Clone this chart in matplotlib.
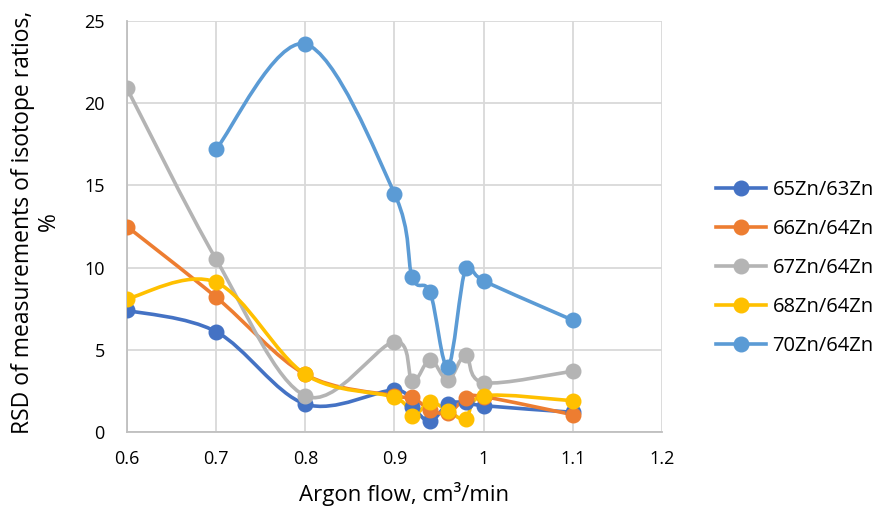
import numpy as np
import matplotlib
matplotlib.use("Agg")
import matplotlib.pyplot as plt
from matplotlib.path import Path
from matplotlib.patches import PathPatch
from matplotlib.lines import Line2D

x_flow = [0.6, 0.7, 0.8, 0.9, 0.92, 0.94, 0.96, 0.98, 1.0, 1.1]
labels = ["65Zn/63Zn", "66Zn/64Zn", "67Zn/64Zn", "68Zn/64Zn", "70Zn/64Zn"]
zn65_63 = [7.4, 6.1, 1.7, 2.55, 1.5, 0.65, 1.7, 1.8, 1.6, 1.2]
zn66_64 = [12.5, 8.2, 3.5, 2.2, 2.1, 1.35, 1.15, 2.05, 2.15, 1.05]
zn67_64 = [20.9, 10.5, 2.2, 5.5, 3.1, 4.4, 3.15, 4.7, 3.0, 3.7]
zn68_64 = [8.1, 9.1, 3.5, 2.1, 1.0, 1.8, 1.3, 0.8, 2.2, 1.9]
zn70_64 = [None, 17.2, 23.6, 14.5, 9.4, 8.5, 3.95, 10.0, 9.2, 6.8]
colors = ["#4472C4", "#ED7D31", "#B4B4B4", "#FFC000", "#5B9BD5"]
series = [zn65_63, zn66_64, zn67_64, zn68_64, zn70_64]

plt.rcParams['font.family'] = ['Open Sans', 'DejaVu Sans']

fig = plt.figure(figsize=(8.77, 5.09), dpi=100)
ax = fig.add_axes([0.1448, 0.1513, 0.6100, 0.8074])


def smooth_path(xs, ys):
    pts = np.array([(a, b) for a, b in zip(xs, ys) if b is not None], dtype=float)
    n = len(pts)
    verts = [tuple(pts[0])]
    codes = [Path.MOVETO]
    for i in range(n - 1):
        p0 = pts[i - 1] if i > 0 else pts[i]
        p1 = pts[i]
        p2 = pts[i + 1]
        p3 = pts[i + 2] if i + 2 < n else pts[i + 1]
        c1 = p1 + (p2 - p0) / 6.0
        c2 = p2 - (p3 - p1) / 6.0
        verts += [tuple(c1), tuple(c2), tuple(p2)]
        codes += [Path.CURVE4] * 3
    return Path(verts, codes), pts


handles = []
for ys, col, lab in zip(series, colors, labels):
    path, pts = smooth_path(x_flow, ys)
    ax.add_patch(PathPatch(path, facecolor='none', edgecolor=col, lw=2.6,
                           capstyle='round', joinstyle='round', zorder=3))
    ax.plot(pts[:, 0], pts[:, 1], linestyle='none', marker='o', ms=10.5,
            color=col, zorder=4)
    handles.append(Line2D([0], [0], color=col, lw=2.6, marker='o', ms=10.5))

ax.set_xlim(0.6, 1.2)
ax.set_ylim(0, 25)
ax.set_xticks([0.6, 0.7, 0.8, 0.9, 1.0, 1.1, 1.2])
ax.set_xticklabels(["0.6", "0.7", "0.8", "0.9", "1", "1.1", "1.2"])
ax.set_yticks([0, 5, 10, 15, 20, 25])
ax.grid(True, color='#D9D9D9', lw=1.3)
ax.set_axisbelow(True)
for s in ['top', 'right']:
    ax.spines[s].set_visible(False)
for s in ['left', 'bottom']:
    ax.spines[s].set_color('#BFBFBF')
    ax.spines[s].set_linewidth(1.3)
ax.tick_params(length=0, labelsize=13, colors='black')
ax.tick_params(axis='x', pad=13)
ax.tick_params(axis='y', pad=16)

fig.text(404 / 877, 1 - 494 / 509, "Argon flow, cm³/min", fontsize=16,
         ha='center', va='center')
fig.text(36 / 877, 1 - 222 / 509, "RSD of measurements of isotope ratios,\n%",
         fontsize=16.5, rotation=90, ha='center', va='center',
         multialignment='center', linespacing=1.15)

fig.legend(handles, labels, loc='center left',
           bbox_to_anchor=(716 / 877, 1 - 268 / 509),
           frameon=False, fontsize=14.5, labelspacing=0.95, handlelength=2.5,
           handletextpad=0.3, borderpad=0, borderaxespad=0)

fig.savefig("out.png", dpi=100)
